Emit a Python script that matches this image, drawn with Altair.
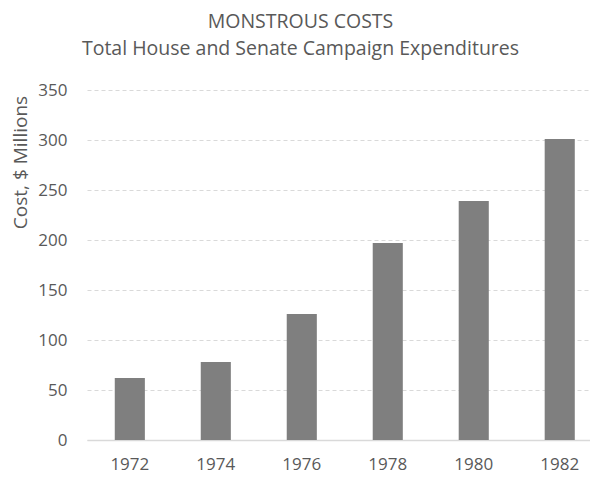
import altair as alt
import pandas as pd

years = ["1972", "1974", "1976", "1978", "1980", "1982"]
costs = [62, 78, 126, 197, 239, 301]

df = pd.DataFrame({"Year": years, "Cost": costs})

FONT = "Open Sans"
TXT = "#595959"

chart = (
    alt.Chart(df)
    .mark_bar(color="#7f7f7f")
    .encode(
        x=alt.X(
            "Year:N",
            sort=years,
            scale=alt.Scale(paddingInner=0.65, paddingOuter=0.25, align=0.646),
            axis=alt.Axis(
                title=None,
                labelAngle=0,
                ticks=False,
                tickSize=0,
                labelPadding=16,
                domainColor="#d9d9d9",
                domainWidth=1.5,
                labelFont=FONT,
                labelFontSize=17,
                labelColor=TXT,
            ),
        ),
        y=alt.Y(
            "Cost:Q",
            scale=alt.Scale(domain=[0, 350], nice=False),
            axis=alt.Axis(
                title="Cost, $ Millions",
                values=[0, 50, 100, 150, 200, 250, 300, 350],
                domain=False,
                ticks=False,
                tickSize=0,
                labelPadding=20,
                labelFont=FONT,
                labelFontSize=17,
                labelColor=TXT,
                grid=True,
                gridColor="#d9d9d9",
                gridDash=[4, 3],
                gridWidth=1,
                titleFont=FONT,
                titleFontSize=19,
                titleFontWeight="normal",
                titleColor=TXT,
                titleAngle=-90,
                titleAlign="center",
                titleBaseline="alphabetic",
                titleX=-61,
                titleY=72,
            ),
        ),
    )
    .properties(
        width=503,
        height=350,
        autosize=alt.AutoSizeParams(type="none"),
        padding={"left": 79, "top": 82, "right": 0, "bottom": 40},
        title=alt.TitleParams(
            text=["MONSTROUS COSTS", "Total House and Senate Campaign Expenditures"],
            font=FONT,
            fontSize=19.5,
            fontWeight="normal",
            color=TXT,
            anchor="middle",
            frame="group",
            lineHeight=27,
            dx=-38,
            dy=-18,
        ),
    )
    .configure_view(stroke=None)
)

chart.save("out.html", embed_options={"renderer": "svg", "actions": False})
